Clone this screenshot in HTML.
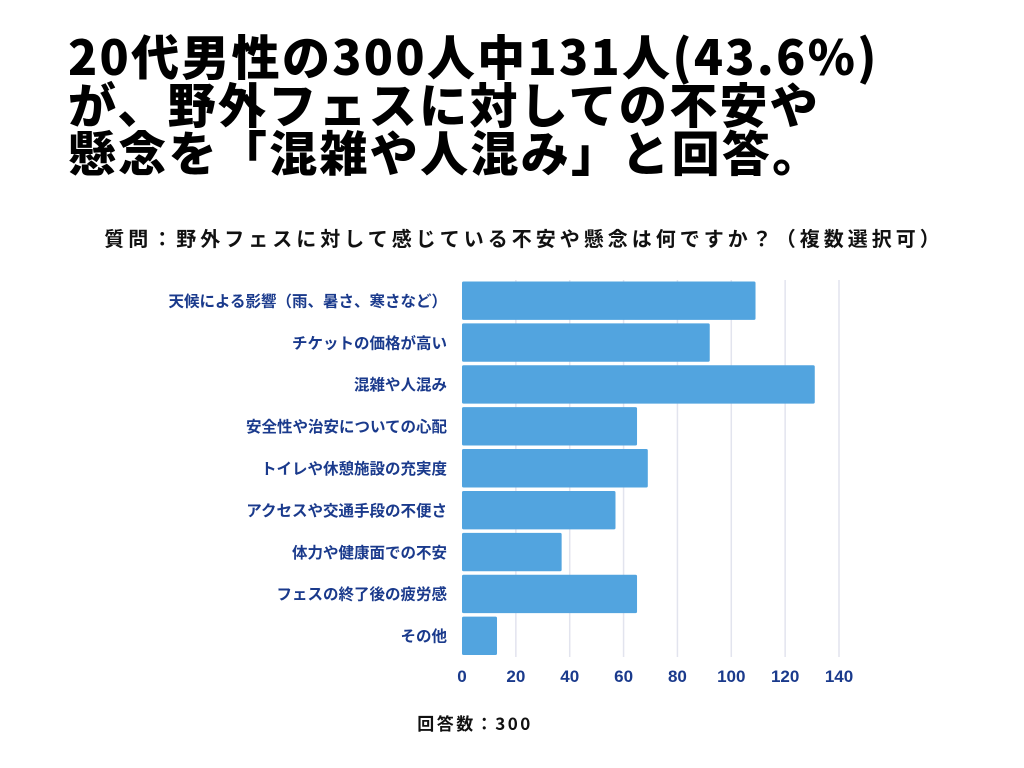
<!DOCTYPE html>
<html><head><meta charset="utf-8">
<style>
body{margin:0;width:1024px;height:768px;background:#fff;overflow:hidden;font-family:"Liberation Sans","Noto Sans CJK JP",sans-serif;}
#title{position:absolute;left:68px;top:30px;font-family:"Noto Sans CJK JP",sans-serif;font-weight:900;font-size:48px;line-height:48px;color:#000;letter-spacing:2.3px;margin:0;white-space:nowrap}
#sub{position:absolute;left:0;width:1048px;top:223px;text-align:center;font-family:"Noto Sans CJK JP",sans-serif;font-weight:700;font-size:20px;letter-spacing:4px;color:#111;white-space:nowrap}
#foot{position:absolute;left:0;width:950px;top:710px;text-align:center;font-family:"Noto Sans CJK JP",sans-serif;font-weight:700;font-size:17px;letter-spacing:2.5px;color:#111;}
</style></head><body>
<h1 id="title">20代男性の300人中131人(43.6%)<br>が、野外フェスに対しての不安や<br>懸念を「混雑や人混み」と回答。</h1>
<div id="sub">質問：野外フェスに対して感じている不安や懸念は何ですか？（複数選択可）</div>
<svg id="chart" width="1024" height="768" style="position:absolute;left:0;top:0"></svg>
<div id="foot">回答数：300</div>
<script>
const categories=["天候による影響（雨、暑さ、寒さなど）","チケットの価格が高い","混雑や人混み","安全性や治安についての心配","トイレや休憩施設の充実度","アクセスや交通手段の不便さ","体力や健康面での不安","フェスの終了後の疲労感","その他"];
const values=[109,92,131,65,69,57,37,65,13];
const ticks=[0,20,40,60,80,100,120,140];
const NS="http://www.w3.org/2000/svg";
const svgEl=document.getElementById('chart');
const x0=462,x1=839,vmax=140,yTop=280,yBottom=657;
const xs=v=>x0+(v/vmax)*(x1-x0);
const band=(yBottom-yTop)/categories.length;
function mk(t,a){const e=document.createElementNS(NS,t);for(const k in a)e.setAttribute(k,a[k]);svgEl.appendChild(e);return e;}
ticks.forEach(t=>{
 if(t>0){const g=mk('line',{x1:xs(t),x2:xs(t),y1:yTop,y2:yBottom,stroke:'#e2e4ee','stroke-width':1.5});
 
 }
 const l=mk('text',{x:xs(t),y:682,'text-anchor':'middle','font-size':17,'font-weight':700,fill:'#1a3a8c','font-family':'"Liberation Sans","Noto Sans CJK JP",sans-serif'});
 l.textContent=t;
 
 
});
categories.forEach((c,i)=>{
 const y=yTop+i*band;
 const r=mk('rect',{x:x0,y:y+1.5,width:xs(values[i])-x0,height:band-3.5,fill:'#52a4df',rx:1.5});
 
 
 const t=mk('text',{x:447,y:y+band/2+5.5,'text-anchor':'end','font-size':15.5,'font-weight':700,fill:'#1a3a8c','font-family':'"Noto Sans CJK JP",sans-serif'});
 t.textContent=c;
 
 
});
</script>
</body></html>
